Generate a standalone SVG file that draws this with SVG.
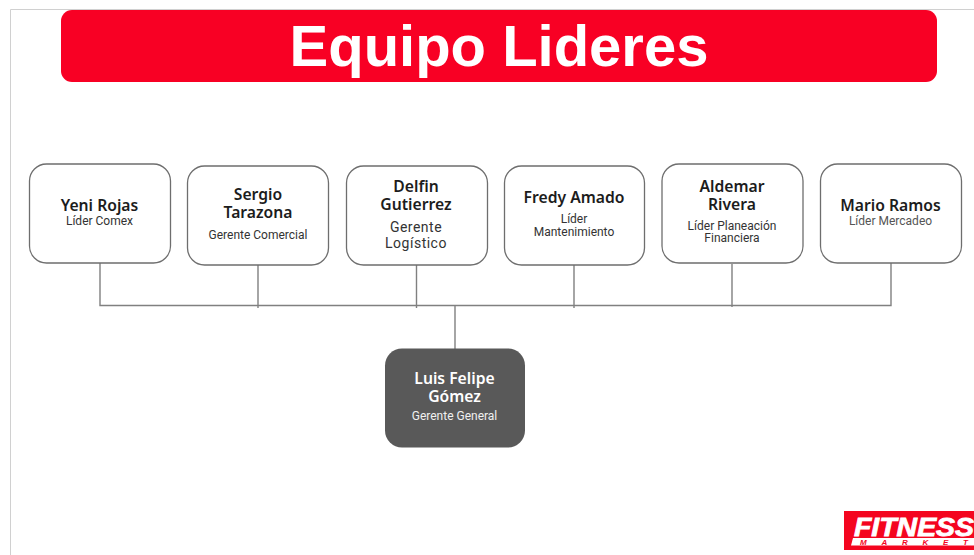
<svg xmlns="http://www.w3.org/2000/svg" width="974" height="555" viewBox="0 0 974 555">
<style>
.box{fill:#fff;stroke:#6e6e6e;stroke-width:1.3}
.n{font-family:"Noto Sans",sans-serif;font-weight:600;font-size:15.700px;fill:#1c1c1c;text-anchor:middle}
.s{font-family:Roboto,sans-serif;font-size:12px;fill:#333;text-anchor:middle}
.m{font-family:Roboto,sans-serif;font-size:14px;fill:#333;text-anchor:middle;letter-spacing:.5px}
.c{fill:none;stroke:#808080;stroke-width:1.400}
</style>
<rect width="974" height="555" fill="#fff"/>
<path d="M10.500 555V9.500H974" fill="none" stroke="#d0d0d0" stroke-width="1"/>
<g id="title">
<rect x="61" y="10" width="876" height="72" rx="11" fill="#f80024"/>
<text x="499" y="66" font-family="'Liberation Sans',sans-serif" font-weight="700" font-size="58" fill="#fff" text-anchor="middle">Equipo Lideres</text>
</g>
<g id="connectors">
<path class="c" d="M100 263V305.500H891V263"/>
<path class="c" d="M258 265V308M416.500 265V308M574 265V308M732 264V307M455 306V349"/>
</g>
<g id="node-yeni"><rect class="box" x="29.500" y="164" width="141" height="99" rx="17"/>
<text class="n" x="99.500" y="211">Yeni Rojas</text><text class="s" x="99.500" y="225">Líder Comex</text></g>
<g id="node-sergio"><rect class="box" x="187.500" y="166" width="141" height="99" rx="17"/>
<text class="n" x="258" y="200">Sergio</text><text class="n" x="258" y="218">Tarazona</text><text class="s" x="258" y="239">Gerente Comercial</text></g>
<g id="node-delfin"><rect class="box" x="346.500" y="166" width="141" height="99" rx="17"/>
<text class="n" x="416" y="192">Delfin</text><text class="n" x="416" y="210">Gutierrez</text><text class="m" x="416" y="232">Gerente</text><text class="m" x="416" y="248">Logístico</text></g>
<g id="node-fredy"><rect class="box" x="504.500" y="166" width="140" height="99" rx="17"/>
<text class="n" x="574" y="203">Fredy Amado</text><text class="s" x="574" y="223">Líder</text><text class="s" x="574" y="236">Mantenimiento</text></g>
<g id="node-aldemar"><rect class="box" x="662" y="164" width="141" height="99" rx="17"/>
<text class="n" x="732" y="192">Aldemar</text><text class="n" x="732" y="210">Rivera</text><text class="s" x="732" y="230">Líder Planeación</text><text class="s" x="732" y="242">Financiera</text></g>
<g id="node-mario"><rect class="box" x="820.500" y="164" width="141" height="99" rx="17"/>
<text class="n" x="890.500" y="211">Mario Ramos</text><text class="s" x="890.500" y="225" style="fill:#555">Líder Mercadeo</text></g>
<g id="node-luis"><rect x="385" y="348.500" width="140" height="99" rx="17" fill="#595959"/>
<text class="n" x="454.500" y="384" style="fill:#fff">Luis Felipe</text><text class="n" x="454.500" y="402" style="fill:#fff">Gómez</text><text class="s" x="454.500" y="420" style="fill:#f0f0f0">Gerente General</text></g>
<g id="logo">
<rect x="844" y="511" width="130" height="39" fill="#f4051f"/>
<text x="854" y="536" font-family="'Liberation Sans',sans-serif" font-weight="700" font-style="italic" font-size="26" fill="#fff" stroke="#fff" stroke-width=".8" textLength="120" lengthAdjust="spacingAndGlyphs">FITNESS</text>
<path d="M853 538H974V545.500H851Z" fill="#fff"/>
<text x="860" y="545" font-family="'Liberation Sans',sans-serif" font-weight="700" font-style="italic" font-size="8" fill="#f4051f" textLength="108">MARKET</text>
</g>
</svg>
